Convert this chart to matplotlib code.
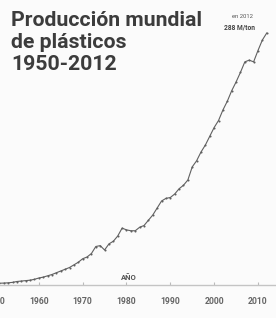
import numpy as np
import matplotlib.pyplot as plt

years = list(range(1950, 2013))
production = [1.5, 2, 2.2, 2.5, 3, 4, 4.5, 5, 5.5, 6.5,
              8, 9, 10.5, 12, 14, 16, 18, 20, 23, 26,
              30, 32, 36, 44, 45, 40, 47, 50, 56, 65,
              63, 62, 62, 66, 68, 74, 80, 88, 96, 99,
              100, 104, 110, 114, 120, 135, 142, 152, 160, 170,
              180, 188, 200, 210, 222, 232, 243, 255, 257, 255,
              268, 280, 288]
tick_years = [1950, 1960, 1970, 1980, 1990, 2000, 2010]

W, H = 276, 318
fig = plt.figure(figsize=(W / 100, H / 100), dpi=100)
fig.patch.set_facecolor("#fbfbfb")

# axes extends past the left edge so the 1950 label is cut like the photo
x0, x1 = 1945, 2015
px_per_year = 4.383
left_px = -5 - (1950 - x0) * px_per_year
width_px = (x1 - x0) * px_per_year
ax = fig.add_axes([left_px / W, 33 / H, width_px / W, 285 / H])
ax.set_facecolor("none")
ax.set_xlim(x0, x1)
ax.set_ylim(0, 285 / 0.875)

ax.plot(years, production, color="#606060", linewidth=0.8,
        marker="o", markersize=1.5, markeredgewidth=0)

for s in ["top", "right", "left"]:
    ax.spines[s].set_visible(False)
ax.spines["bottom"].set_color("#c4c4c4")
ax.spines["bottom"].set_linewidth(1.0)
ax.set_yticks([])
ax.set_xticks(tick_years)
ax.set_xticklabels([str(y) for y in tick_years], fontsize=6.2,
                   fontweight="bold", color="#666666", family="Roboto")
ax.tick_params(axis="x", direction="in", length=2.5, width=0.8,
               color="#bbbbbb", pad=9)

ax.text(1980.5, 9, "AÑO", fontsize=5.5, fontweight="bold", color="#555555",
        ha="center", va="center", family="Roboto")

fig.text(11 / W, 1 - 11 / H, "Producción mundial\nde plásticos\n1950-2012",
         fontsize=15.3, fontweight="bold", color="#3c3c3c", family="Roboto",
         ha="left", va="top", linespacing=1.2)

fig.text(242 / W, 1 - 16 / H, "en 2012", fontsize=4.2, color="#555555",
         ha="center", va="center", family="Roboto")
fig.text(240 / W, 1 - 27 / H, "288 M/ton", fontsize=4.8, fontweight="bold",
         color="#444444", ha="center", va="center", family="Roboto")

fig.savefig("out.png", dpi=100, facecolor=fig.get_facecolor())
